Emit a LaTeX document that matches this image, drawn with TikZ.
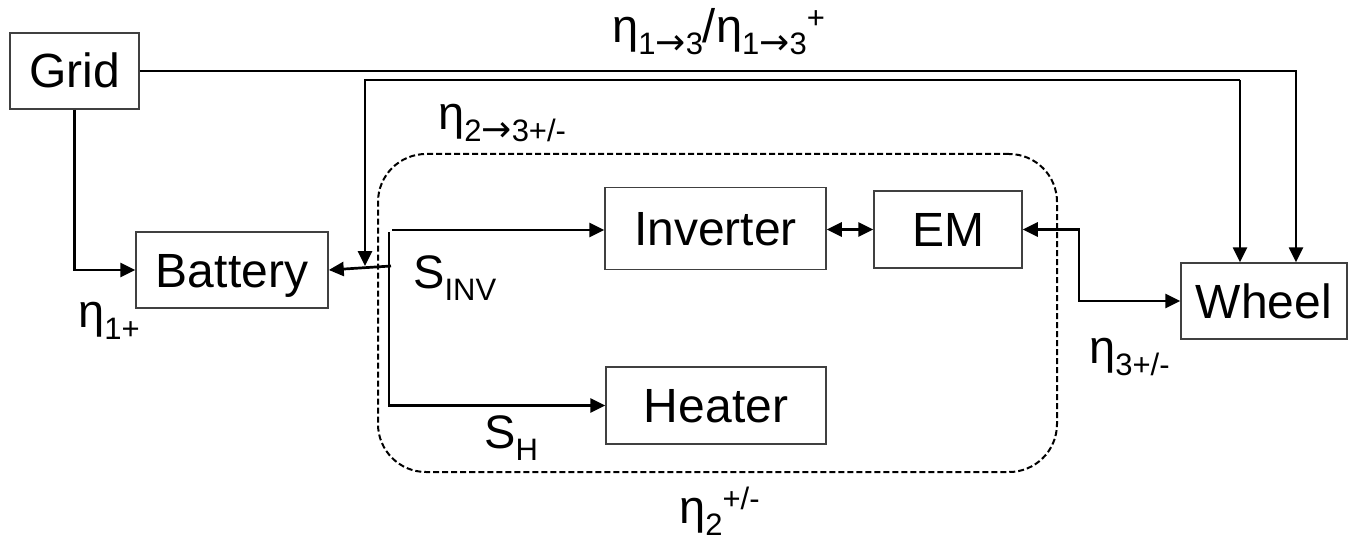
\documentclass[tikz,border=0pt]{standalone}
\usepackage{fontspec}
\setmainfont{Liberation Sans}
\newfontfamily\arrowfont{DejaVu Sans}
\usetikzlibrary{arrows.meta}
\newcommand{\mysub}[1]{\raisebox{-12pt}{\fontsize{31}{31}\selectfont #1}}
\newcommand{\mysup}[1]{\raisebox{14pt}{\fontsize{31}{31}\selectfont #1}}
\newcommand{\myarr}{{\arrowfont\fontsize{36}{36}\selectfont →}}
\begin{document}
\begin{tikzpicture}[x=1pt,y=-1pt,
  box/.style={draw=black!75, line width=1.5pt, inner sep=0pt, text height=34pt, text depth=0pt, font=\fontsize{48}{56}\selectfont},
  tip/.tip={Triangle[length=15pt,width=14pt]},
  wire/.style={line width=2.7pt},
  conn/.style={wire, -tip},
  biconn/.style={wire, tip-tip},
  grp/.style={draw, line width=2pt, dash pattern=on 6pt off 3pt, rounded corners=48pt, inner sep=0pt},
  lbl/.style={inner sep=0pt, anchor=base west, font=\fontsize{47}{56}\selectfont}]
\useasboundingbox (0,0) rectangle (1348,540);

% dashed group
\node[grp, minimum width=679pt, minimum height=318pt] (group) at (717.5,313) {};

% boxes
\node[box, minimum width=129pt, minimum height=76pt] (grid) at (74.5,71) {Grid};
\node[box, minimum width=192pt, minimum height=76pt] (battery) at (232,270) {Battery};
\node[box, minimum width=221pt, minimum height=82pt] (inverter) at (715.5,228.5) {Inverter};
\node[box, minimum width=148pt, minimum height=77pt] (em) at (948,229.5) {EM};
\node[box, minimum width=220pt, minimum height=77pt] (heater) at (716,405.5) {Heater};
\node[box, minimum width=166pt, minimum height=76pt] (wheel) at (1264,301) {Wheel};

% helper coordinates
\coordinate (bj) at (365,266);
\coordinate (top2) at (1240,80);
\coordinate (swtop) at (389,232);
\coordinate (swinv) at (392,230);
\coordinate (swbat) at (391,266);
\coordinate (emj) at (1079,300);

% connectors
\draw[conn] (grid.south) |- (battery.west);
\draw[conn] (grid.east) -| ([xshift=32pt]wheel.north);
\draw[conn] (top2) -- ([xshift=-24pt]wheel.north);
\draw[conn] (top2) -| (bj);
\draw[conn] (swbat) -- (battery.east);
\draw[conn] (swtop) |- (heater.west);
\draw[conn] (swinv) -- (inverter.west |- swinv);
\draw[biconn] (inverter.east |- em.west) -- (em.west);
\draw[biconn] (em.east) -- (em.east -| emj) |- (wheel.west);

% labels
\node[lbl] (l13) at (612,43) {η\mysub{1\myarr3}/η\mysub{1\myarr3}\mysup{+}};
\node[lbl] (l23) at (438,130) {η\mysub{2\myarr3+/-}};
\node[lbl] (l1p) at (78,327) {η\mysub{1+}};
\node[lbl] (linv) at (413,288) {S\mysub{INV}};
\node[lbl] (lh) at (484,448) {S\mysub{H}};
\node[lbl] (l3) at (1089,363) {η\mysub{3+/-}};
\node[lbl] (l2) at (679,523) {η\mysub{2}\mysup{+/-}};
\end{tikzpicture}
\end{document}
